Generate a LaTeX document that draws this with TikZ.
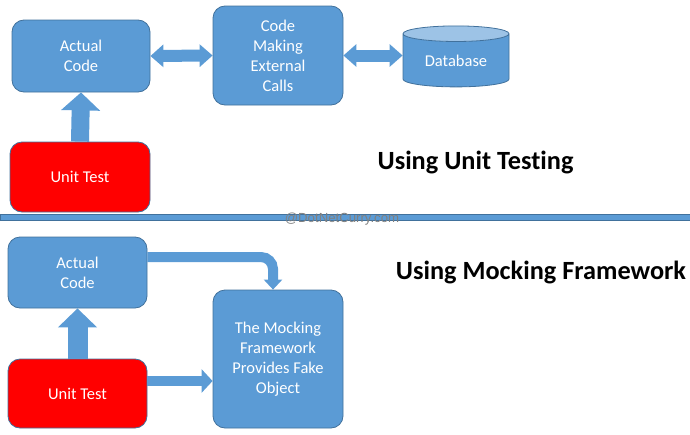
\documentclass[tikz,border=0pt]{standalone}
\usepackage{fontspec}
\setmainfont{Carlito}[Ligatures=CommonOff]
\newfontfamily\markfont{Liberation Sans}
\usetikzlibrary{arrows.meta,shapes.geometric}
\definecolor{boxblue}{HTML}{5B9BD5}
\definecolor{boxedge}{HTML}{41719C}
\definecolor{dbtop}{HTML}{9DC3E6}
\definecolor{testred}{HTML}{FF0000}
\definecolor{markgray}{HTML}{808080}
\tikzset{
  box/.style = {draw=boxedge,fill=boxblue,text=white,rounded corners=12pt,
    align=center,inner sep=0pt,line width=0.8pt,
    font=\fontsize{16.5}{20}\selectfont},
  testbox/.style = {box,fill=testred},
  title/.style = {font=\fontsize{26.3}{30}\selectfont\bfseries},
  fat/.style = {boxblue,line width=#1}
}
\begin{document}
\begin{tikzpicture}[x=1pt,y=-1pt]
  \useasboundingbox (0,0) rectangle (690,434);
  \node[box,minimum width=138pt,minimum height=72pt] (code1) at (81,56) {Actual\\Code};
  \node[box,minimum width=130pt,minimum height=99pt] (calls) at (278,55.5) {Code\\Making\\External\\Calls};
  \node[testbox,minimum width=140pt,minimum height=70pt] (test1) at (80,177) {Unit Test};
  \node[cylinder,shape border rotate=90,aspect=0.25,draw=boxedge,line width=0.8pt,
        cylinder uses custom fill,cylinder body fill=boxblue,cylinder end fill=dbtop,
        minimum width=106pt,minimum height=61pt,inner sep=0pt,text=white,
        font=\fontsize{16.5}{20}\selectfont] (db) at (456,60.5) {Database};
  \draw[fat=12pt,{Triangle[width=22pt,length=13pt]}-{Triangle[width=22pt,length=13pt]}] (code1.east) -- (calls.west);
  \draw[fat=12pt,{Triangle[width=22pt,length=13pt]}-{Triangle[width=22pt,length=13pt]}] (calls.east) -- (calls.east -| db.west);
  \draw[fat=18pt,-{Triangle[width=38pt,length=18pt]}] (test1.north) -- (code1.south);
  \node[title] (unittitle) at (475.5,162) {Using Unit Testing};

  \draw[draw=boxedge,fill=boxblue,line width=0.6pt] (0,214.5) rectangle (690,220.5);
  \node[text=markgray,font=\markfont\fontsize{13.2}{15}\selectfont] (mark) at (342,219) {@DotNetCurry.com};

  \node[box,minimum width=139pt,minimum height=71pt] (code2) at (77.5,272.5) {Actual\\Code};
  \node[testbox,minimum width=139pt,minimum height=69pt] (test2) at (77.5,393.5) {Unit Test};
  \node[box,minimum width=130pt,minimum height=138pt] (mock) at (278,359) {The Mocking\\Framework\\Provides Fake\\Object};
  \node[title] (mocktitle) at (541,272) {Using Mocking Framework};
  \coordinate (c2out) at ([yshift=15.5pt]code2.east);
  \coordinate (mockin) at ([xshift=-5pt]mock.north);
  \coordinate (t2out) at ([yshift=12.5pt]test2.east);
  \draw[fat=20pt,-{Triangle[width=38pt,length=19pt]}] (test2.north) -- (code2.south);
  \draw[fat=10pt,-{Triangle[width=23pt,length=11pt]}] (t2out) -- (t2out -| mock.west);
  \draw[fat=10pt,-{Triangle[width=18pt,length=10pt]},rounded corners=12pt] (c2out) -| (mockin);
\end{tikzpicture}
\end{document}
